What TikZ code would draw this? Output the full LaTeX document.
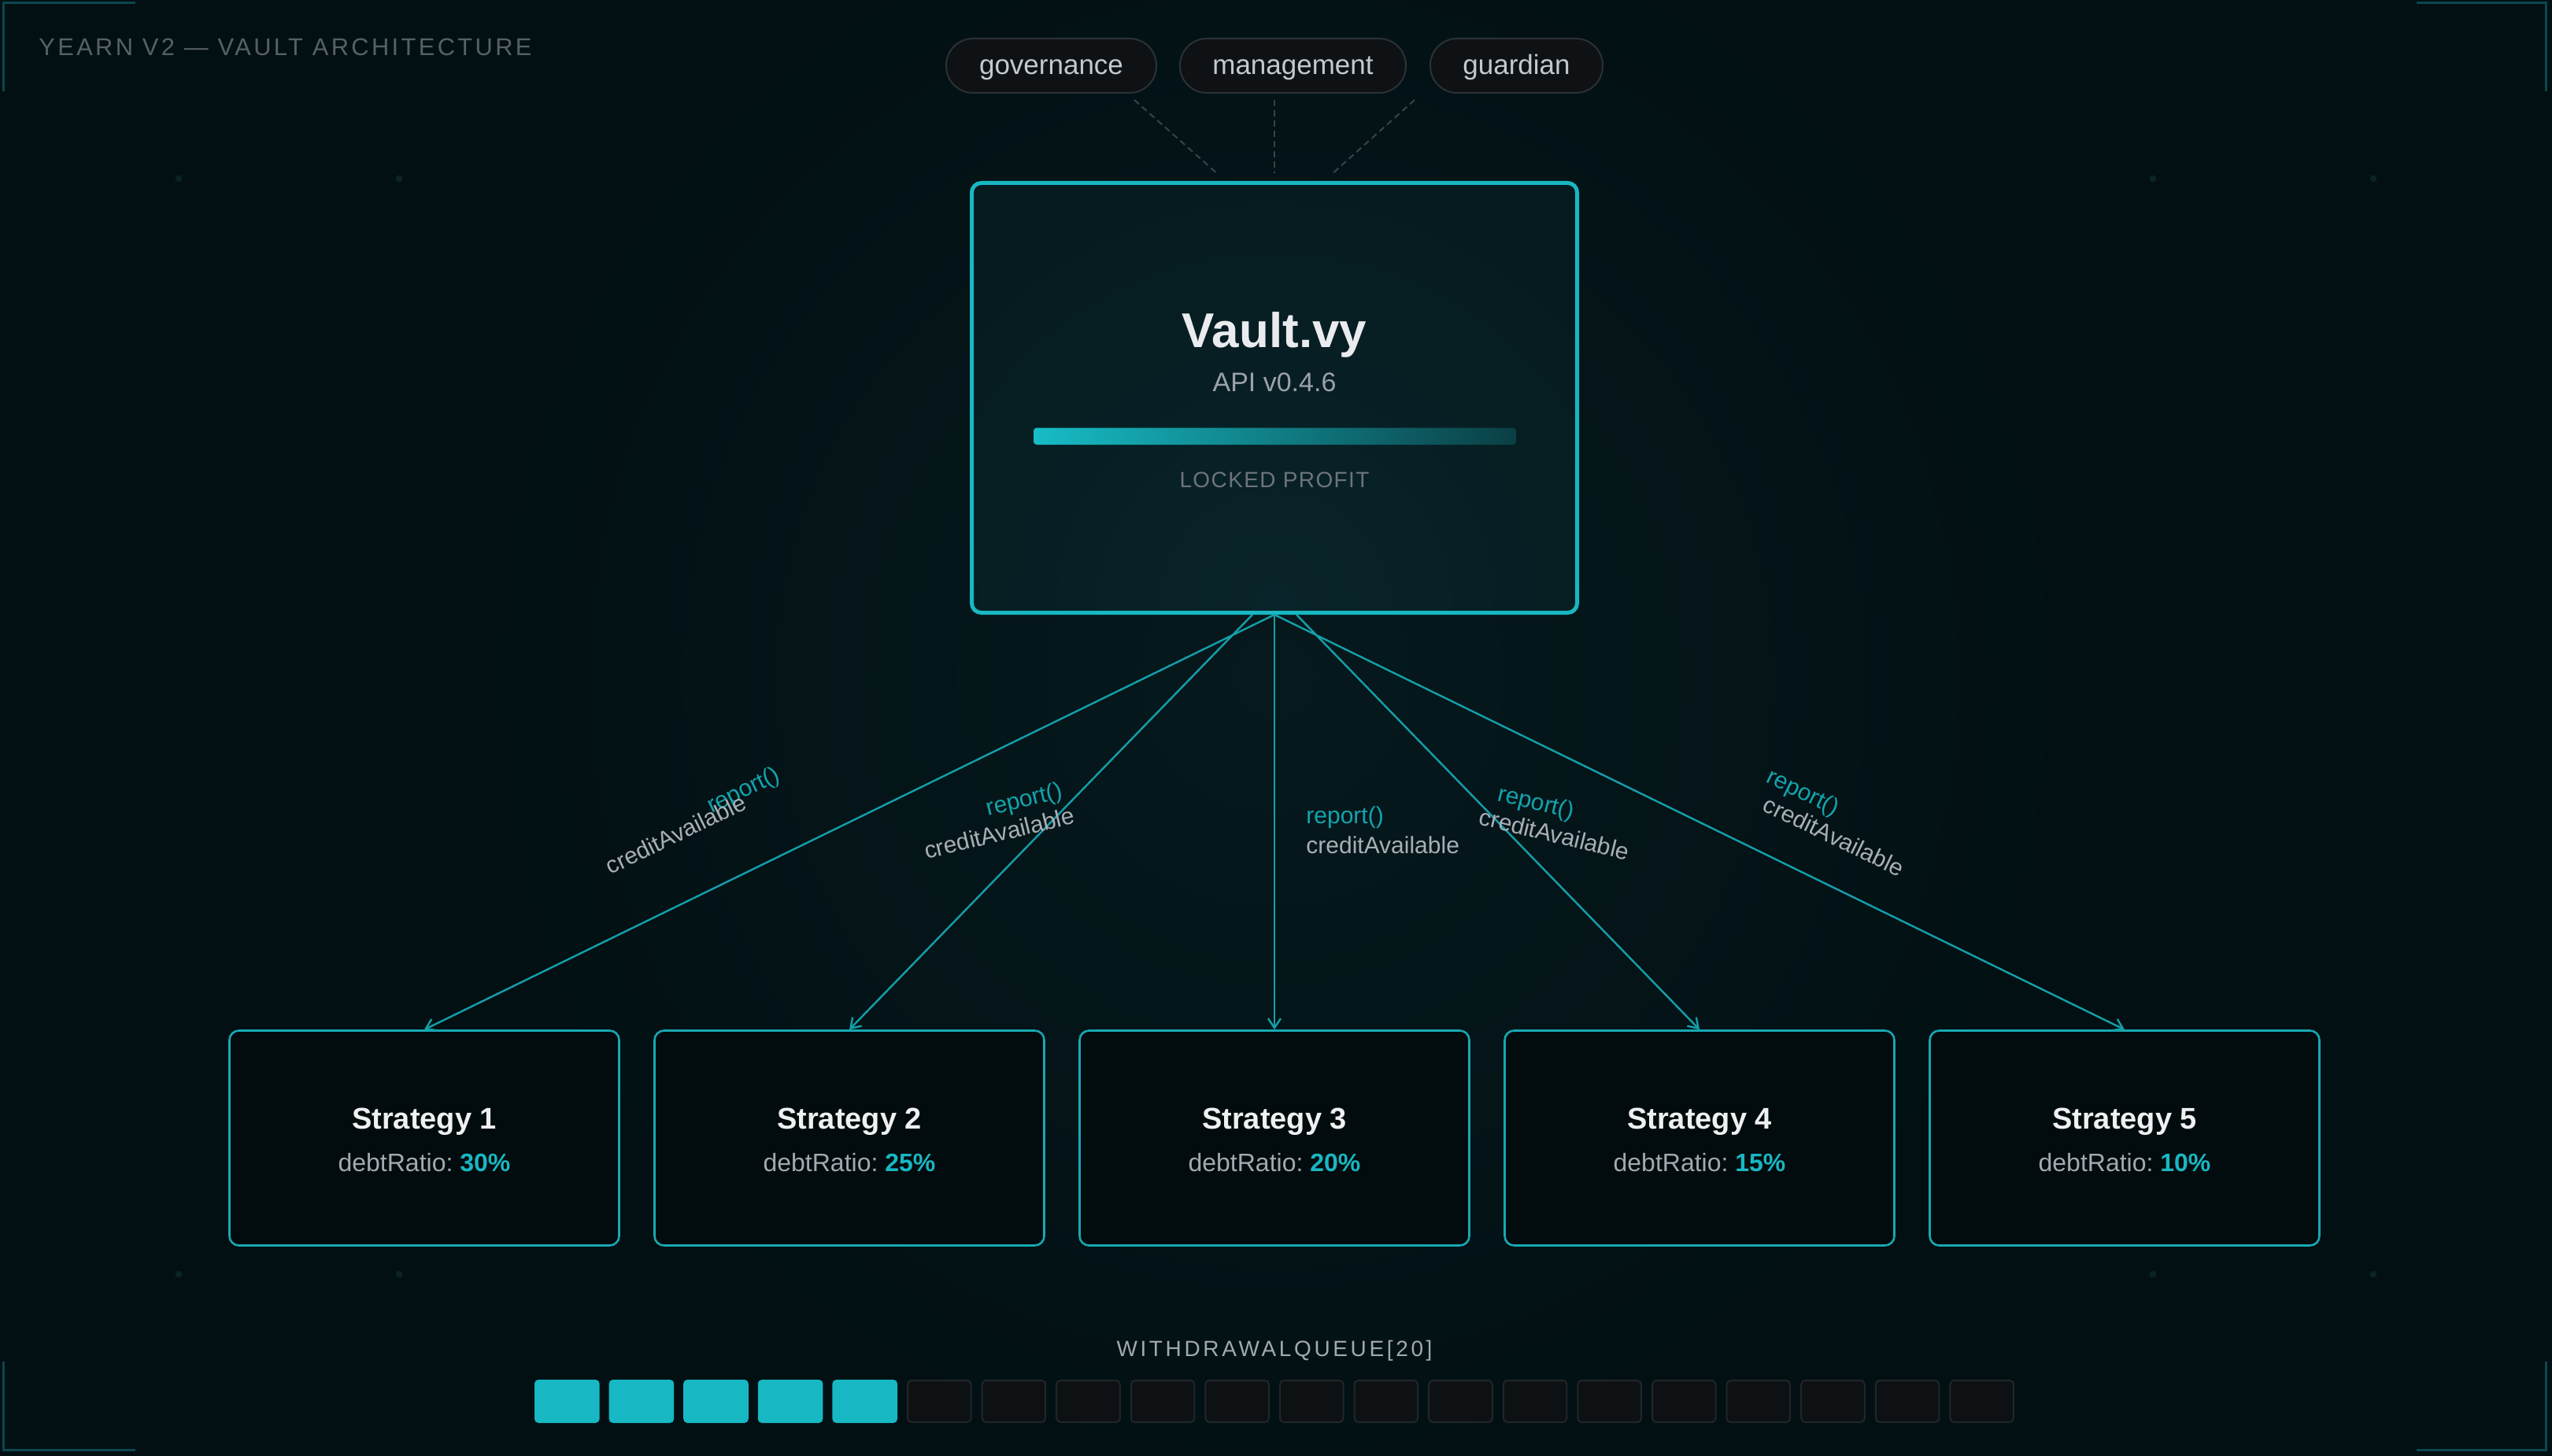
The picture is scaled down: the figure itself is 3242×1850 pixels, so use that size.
\documentclass[tikz,border=0pt]{standalone}
\usepackage{fontspec}
\setmainfont{Liberation Sans}
\newfontfamily\titlefont[LetterSpace=11]{Liberation Sans}
\newfontfamily\capsfont[LetterSpace=5]{Liberation Sans}
\newfontfamily\queuefont[LetterSpace=13]{Liberation Sans}
\usetikzlibrary{arrows.meta,calc}
\definecolor{bg}{HTML}{021013}
\definecolor{glow}{HTML}{06191D}
\definecolor{vaultfill}{HTML}{051A1E}
\definecolor{vaultglow}{HTML}{09242A}
\definecolor{vaultborder}{HTML}{18B7C2}
\definecolor{boxfill}{HTML}{020B0D}
\definecolor{boxborder}{HTML}{17A8B2}
\definecolor{conncolor}{HTML}{149FA9}
\definecolor{tealc}{HTML}{17B8C3}
\definecolor{pillfill}{HTML}{0E1215}
\definecolor{pillborder}{HTML}{2B3135}
\definecolor{pilltext}{HTML}{C4C9CF}
\definecolor{dashc}{HTML}{3B4246}
\definecolor{titlec}{HTML}{586066}
\definecolor{vnamec}{HTML}{E9EBEE}
\definecolor{apigray}{HTML}{9BA1A8}
\definecolor{lockgray}{HTML}{6D747A}
\definecolor{strattext}{HTML}{EEF0F2}
\definecolor{debtgray}{HTML}{A3A9B0}
\definecolor{reportc}{HTML}{14A3AD}
\definecolor{creditc}{HTML}{A9AEB5}
\definecolor{queuec}{HTML}{A2A8AF}
\definecolor{qofffill}{HTML}{0D1114}
\definecolor{qoffborder}{HTML}{20262A}
\definecolor{bracketc}{HTML}{0B474D}
\definecolor{dotc}{HTML}{0A2327}
\definecolor{barL}{HTML}{17BCC6}
\definecolor{barR}{HTML}{0A3F44}
\begin{document}
\begin{tikzpicture}[x=0.5pt,y=-0.5pt,
  bracket/.style={draw=bracketc, line width=1.5pt},
  pill/.style={draw=pillborder, line width=1pt, fill=pillfill, rounded corners=17pt,
    minimum height=34.5pt, text=pilltext, font=\fontsize{17.5pt}{20pt}\selectfont,
    text height=12pt, text depth=0.5pt, inner sep=0pt},
  dashline/.style={draw=dashc, line width=1pt, dash pattern=on 4pt off 2.5pt},
  vaultbox/.style={draw=vaultborder, line width=2.5pt, rounded corners=6pt,
    minimum width=384.5pt, minimum height=273pt, inner sep=0pt},
  stratbox/.style={draw=boxborder, line width=1.3pt, fill=boxfill, rounded corners=6pt,
    minimum width=247.5pt, minimum height=136.5pt, inner sep=0pt},
  conn/.style={draw=conncolor, line width=1.2pt, -{Straight Barb[length=6pt,width=8pt]}},
  lbl/.style={anchor=base west, inner sep=0pt, font=\fontsize{15pt}{18pt}\selectfont},
  qon/.style={fill=tealc, rounded corners=2.5pt, minimum width=41.3pt, minimum height=27.5pt, inner sep=0pt},
  qoff/.style={fill=qofffill, draw=qoffborder, line width=1pt, rounded corners=2.5pt,
    minimum width=40.3pt, minimum height=26.5pt, inner sep=0pt}
]
\fill[bg] (0,0) rectangle (3242,1850);
\useasboundingbox (0,0) rectangle (3242,1850);
\shade[inner color=glow, outer color=bg] (1619,860) circle (520pt);

% corner brackets
\draw[bracket] (4,116) -- (4,4) -- (172,4);
\draw[bracket] (3070,4) -- (3234,4) -- (3234,116);
\draw[bracket] (4,1730) -- (4,1842) -- (172,1842);
\draw[bracket] (3070,1842) -- (3234,1842) -- (3234,1730);

% faint dots
\foreach \x in {227,507,2735,3015} {
  \foreach \y in {227,1619} {
    \fill[dotc] (\x,\y) circle (2.2pt);
  }
}

% title
\node[anchor=base west, inner sep=0pt, text=titlec, font=\titlefont\fontsize{15.4pt}{18pt}\selectfont] (title) at (49,71) {YEARN V2 — VAULT ARCHITECTURE};

% role pills
\node[pill, minimum width=133.5pt] (gov) at (1335.5,83.5) {governance};
\node[pill, minimum width=143.5pt] (mgmt) at (1642.5,83.5) {management};
\node[pill, minimum width=109.5pt] (guard) at (1926.5,83.5) {guardian};

\coordinate (g1) at (1441,127);
\coordinate (g2) at (1548,222);
\coordinate (m1) at (1619,127);
\coordinate (m2) at (1619,220);
\coordinate (u1) at (1797,127);
\coordinate (u2) at (1691,222);
\draw[dashline] (g1) -- (g2);
\draw[dashline] (m1) -- (m2);
\draw[dashline] (u1) -- (u2);

% vault
\fill[vaultfill, rounded corners=6pt] (1234.5,232.5) rectangle (2003.5,778.5);
\begin{scope}
  \clip[rounded corners=6pt] (1234.5,232.5) rectangle (2003.5,778.5);
  \shade[inner color=vaultglow, outer color=vaultfill] (1619,770) circle (300pt);
\end{scope}
\node[vaultbox] (vault) at (1619,505.5) {};
\node[anchor=base, inner sep=0pt, text=vnamec, font=\bfseries\fontsize{31pt}{36pt}\selectfont] (vname) at (1619,442) {Vault.vy};
\node[anchor=base, inner sep=0pt, text=apigray, font=\fontsize{17pt}{20pt}\selectfont] (vapi) at (1619,497) {API v0.4.6};
\node[left color=barL, right color=barR, rounded corners=2pt, minimum width=306.5pt, minimum height=10.75pt, inner sep=0pt] (bar) at (1619.5,554.25) {};
\node[anchor=base, inner sep=0pt, text=lockgray, font=\capsfont\fontsize{14pt}{16pt}\selectfont] (vlock) at (1619,619) {LOCKED PROFIT};

% strategies
\foreach \i/\pct in {1/30,2/25,3/20,4/15,5/10} {
  \pgfmathsetmacro\cx{539+540*(\i-1)}
  \node[stratbox] (s\i) at (\cx,1446) {};
  \node[anchor=base, inner sep=0pt, text=strattext, font=\bfseries\fontsize{19pt}{22pt}\selectfont] (st\i) at (\cx,1434) {Strategy \i};
  \node[anchor=base, inner sep=0pt, text=debtgray, font=\fontsize{16pt}{19pt}\selectfont] (sr\i) at (\cx,1488) {debtRatio:~\textcolor{tealc}{\bfseries \pct\%}};
}

% connectors
\coordinate (o2) at ([xshift=-14pt]vault.south);
\coordinate (o4) at ([xshift=14pt]vault.south);
\draw[conn] (vault.south) -- (s1.north);
\draw[conn] (o2) -- (s2.north);
\draw[conn] (vault.south) -- (s3.north);
\draw[conn] (o4) -- (s4.north);
\draw[conn] (vault.south) -- (s5.north);

% connector labels
\node[lbl, text=reportc, rotate=25.9] (r1) at (904,1034) {report()};
\node[lbl, text=creditc, rotate=25.9] (c1) at (775.5,1112) {creditAvailable};
\node[lbl, text=reportc, rotate=13.6] (r2) at (1255,1036.7) {report()};
\node[lbl, text=creditc, rotate=13.6] (c2) at (1177,1091.7) {creditAvailable};
\node[lbl, text=reportc] (r3) at (1659,1046) {report()};
\node[lbl, text=creditc] (c3) at (1659,1084) {creditAvailable};
\node[lbl, text=reportc, rotate=-13.6] (r4) at (1901.4,1017.3) {report()};
\node[lbl, text=creditc, rotate=-13.6] (c4) at (1877.3,1047.3) {creditAvailable};
\node[lbl, text=reportc, rotate=-25.9] (r5) at (2241.8,993.3) {report()};
\node[lbl, text=creditc, rotate=-25.9] (c5) at (2237.2,1029.3) {creditAvailable};

% withdrawal queue
\node[anchor=base, inner sep=0pt, text=queuec, font=\queuefont\fontsize{14pt}{16pt}\selectfont] (qlabel) at (1619,1723) {WITHDRAWALQUEUE[20]};
\foreach \i in {0,...,19} {
  \pgfmathsetmacro\qx{1619+(\i-9.5)*94.6}
  \ifnum\i<5
    \node[qon] (q\i) at (\qx,1780.5) {};
  \else
    \node[qoff] (q\i) at (\qx,1780.5) {};
  \fi
}
\end{tikzpicture}
\end{document}
